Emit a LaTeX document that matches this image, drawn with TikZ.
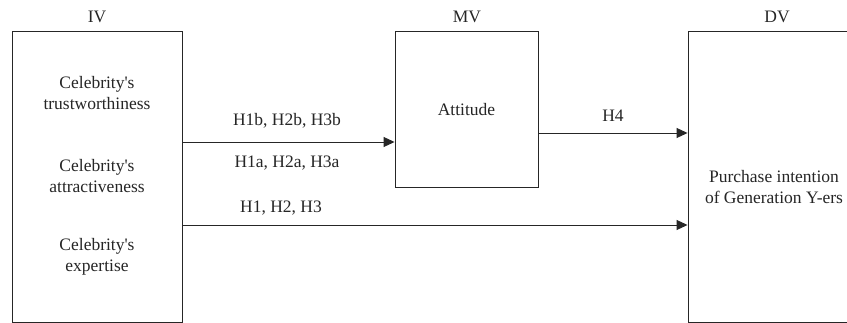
\documentclass[tikz,border=0pt]{standalone}
\usepackage{fontspec}
\setmainfont{Liberation Serif}
\usetikzlibrary{arrows.meta}
\begin{document}
\begin{tikzpicture}[x=1pt,y=-1pt,
  box/.style={draw=black!85, line width=0.9pt, minimum width=#1, inner sep=0pt},
  txt/.style={inner sep=0pt, align=center, font=\fontsize{17.5}{20.5}\selectfont, text=black!85},
  arr/.style={draw=black!85, line width=0.9pt, -{Triangle[length=11pt,width=10pt]}}]
\clip (0,0) rectangle (847,323);
\fill[white] (0,0) rectangle (847,323);
% boxes
\node[box=170pt, minimum height=291pt] (iv) at (97,176.5) {};
\node[box=143pt, minimum height=156pt] (mv) at (466.5,109) {};
\node[box=190pt, minimum height=291pt] (dv) at (783,176.5) {};
% headers
\node[txt] (ivl) at (97,17) {IV};
\node[txt] (mvl) at (467,17) {MV};
\node[txt] (dvl) at (777,17) {DV};
% texts
\node[txt] (t1) at (97,93) {Celebrity\textquotesingle s\\trustworthiness};
\node[txt] (t2) at (97,176) {Celebrity\textquotesingle s\\attractiveness};
\node[txt] (t3) at (97,257) {Celebrity\textquotesingle s\\expertise};
\node[txt] (att) at (466.5,110) {Attitude};
\node[txt] (pi) at (774,187) {Purchase intention\\of Generation Y-ers};
% connectors
\coordinate (y1) at (0,142);
\coordinate (y2) at (0,133);
\coordinate (y3) at (0,225);
\draw[arr] (iv.east |- y1) -- (mv.west |- y1);
\draw[arr] (mv.east |- y2) -- (dv.west |- y2);
\draw[arr] (iv.east |- y3) -- (dv.west |- y3);
% labels
\node[txt] (l1) at (287,121) {H1b, H2b, H3b};
\node[txt] (l2) at (287,163) {H1a, H2a, H3a};
\node[txt] (l3) at (281,208) {H1, H2, H3};
\node[txt] (l4) at (613,116) {H4};
\end{tikzpicture}
\end{document}
